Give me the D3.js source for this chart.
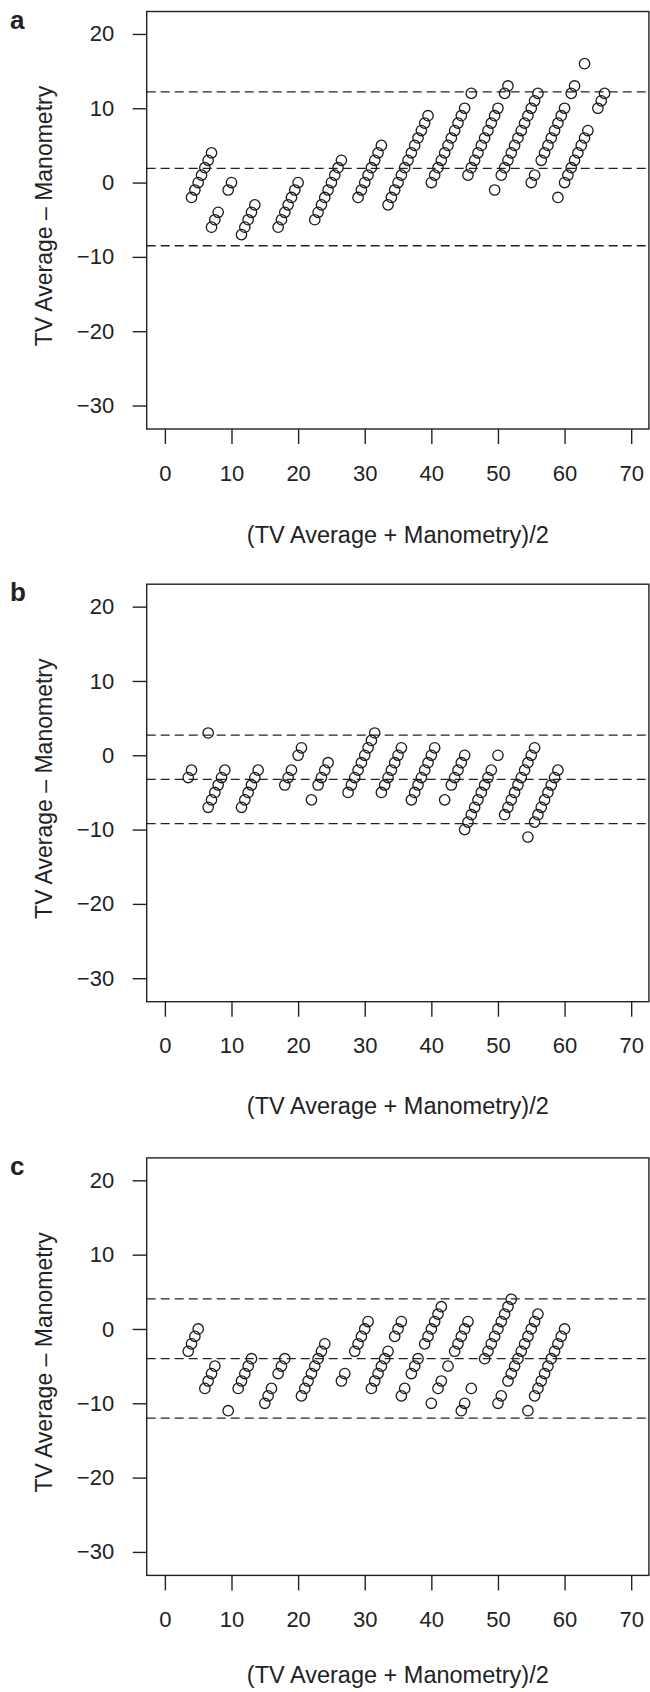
<!DOCTYPE html>
<html>
<head>
<meta charset="utf-8">
<script src="https://cdnjs.cloudflare.com/ajax/libs/d3/7.8.5/d3.min.js"></script>
<style>
body { margin: 0; background: #fff; }
svg text { font-family: "Liberation Sans", Arial, Helvetica, sans-serif; fill: #222; }
</style>
</head>
<body>
<svg width="650" height="1692"></svg>
<script>
var xTicks = [0, 10, 20, 30, 40, 50, 60, 70]
var yTicks = [-30, -20, -10, 0, 10, 20]
var panelNames = ['a', 'b', 'c']

// [mean, difference]
var pointsA = [
    [4,-2],[4.5,-1],[5,0],[5.5,1],[6,2],[6.5,3],[7,4],
    [9.5,-1],[10,0],
    [7,-6],[7.5,-5],[8,-4],
    [11.5,-7],[12,-6],[12.5,-5],[13,-4],[13.5,-3],
    [17,-6],[17.5,-5],[18,-4],[18.5,-3],[19,-2],[19.5,-1],[20,0],
    [22.5,-5],[23,-4],[23.5,-3],[24,-2],[24.5,-1],[25,0],[25.5,1],[26,2],[26.5,3],
    [29,-2],[29.5,-1],[30,0],[30.5,1],[31,2],[31.5,3],[32,4],[32.5,5],
    [33.5,-3],[34,-2],[34.5,-1],[35,0],[35.5,1],[36,2],[36.5,3],[37,4],[37.5,5],[38,6],[38.5,7],[39,8],[39.5,9],
    [40,0],[40.5,1],[41,2],[41.5,3],[42,4],[42.5,5],[43,6],[43.5,7],[44,8],[44.5,9],[45,10],[46,12],
    [45.5,1],[46,2],[46.5,3],[47,4],[47.5,5],[48,6],[48.5,7],[49,8],[49.5,9],[50,10],[51,12],[51.5,13],
    [49.5,-1],
    [50.5,1],[51,2],[51.5,3],[52,4],[52.5,5],[53,6],[53.5,7],[54,8],[54.5,9],[55,10],[55.5,11],[56,12],
    [55,0],[55.5,1],
    [56.5,3],[57,4],[57.5,5],[58,6],[58.5,7],[59,8],[59.5,9],[60,10],[61,12],[61.5,13],
    [59,-2],
    [60,0],[60.5,1],[61,2],[61.5,3],[62,4],[62.5,5],[63,6],[63.5,7],
    [63,16],
    [65,10],[65.5,11],[66,12]
]

var pointsB = [
    [3.5,-3],[4,-2],
    [6.5,3],
    [6.5,-7],[7,-6],[7.5,-5],[8,-4],[8.5,-3],[9,-2],
    [11.5,-7],[12,-6],[12.5,-5],[13,-4],[13.5,-3],[14,-2],
    [18,-4],[18.5,-3],[19,-2],
    [20,0],[20.5,1],
    [22,-6],
    [23,-4],[23.5,-3],[24,-2],[24.5,-1],
    [27.5,-5],[28,-4],[28.5,-3],[29,-2],[29.5,-1],[30,0],[30.5,1],[31,2],[31.5,3],
    [32.5,-5],[33,-4],[33.5,-3],[34,-2],[34.5,-1],[35,0],[35.5,1],
    [37,-6],[37.5,-5],[38,-4],[38.5,-3],[39,-2],[39.5,-1],[40,0],[40.5,1],
    [42,-6],
    [43,-4],[43.5,-3],[44,-2],[44.5,-1],[45,0],
    [45,-10],[45.5,-9],[46,-8],[46.5,-7],[47,-6],[47.5,-5],[48,-4],[48.5,-3],[49,-2],
    [50,0],
    [51,-8],[51.5,-7],[52,-6],[52.5,-5],[53,-4],[53.5,-3],[54,-2],[54.5,-1],[55,0],[55.5,1],
    [54.5,-11],
    [55.5,-9],[56,-8],[56.5,-7],[57,-6],[57.5,-5],[58,-4],[58.5,-3],[59,-2]
]

var pointsC = [
    [3.5,-3],[4,-2],[4.5,-1],[5,0],
    [6,-8],[6.5,-7],[7,-6],[7.5,-5],
    [9.5,-11],
    [11,-8],[11.5,-7],[12,-6],[12.5,-5],[13,-4],
    [15,-10],[15.5,-9],[16,-8],
    [17,-6],[17.5,-5],[18,-4],
    [20.5,-9],[21,-8],[21.5,-7],[22,-6],[22.5,-5],[23,-4],[23.5,-3],[24,-2],
    [26.5,-7],[27,-6],
    [28.5,-3],[29,-2],[29.5,-1],[30,0],[30.5,1],
    [31,-8],[31.5,-7],[32,-6],[32.5,-5],[33,-4],[33.5,-3],
    [34.5,-1],[35,0],[35.5,1],
    [35.5,-9],[36,-8],
    [37,-6],[37.5,-5],[38,-4],
    [39,-2],[39.5,-1],[40,0],[40.5,1],[41,2],[41.5,3],
    [40,-10],
    [41,-8],[41.5,-7],
    [42.5,-5],
    [43.5,-3],[44,-2],[44.5,-1],[45,0],[45.5,1],
    [44.5,-11],[45,-10],
    [46,-8],
    [48,-4],[48.5,-3],[49,-2],[49.5,-1],[50,0],[50.5,1],[51,2],[51.5,3],[52,4],
    [50,-10],[50.5,-9],
    [51.5,-7],[52,-6],[52.5,-5],[53,-4],[53.5,-3],[54,-2],[54.5,-1],[55,0],[55.5,1],[56,2],
    [54.5,-11],
    [55.5,-9],[56,-8],[56.5,-7],[57,-6],[57.5,-5],[58,-4],[58.5,-3],[59,-2],[59.5,-1],[60,0]
]

// upper limit, mean difference, lower limit
var linesA = [12.2, 1.9, -8.5]
var linesB = [2.7, -3.25, -9.2]
var linesC = [4.05, -4.0, -12.0]

var panels = [
    {name: panelNames[0], points: pointsA, lines: linesA},
    {name: panelNames[1], points: pointsB, lines: linesB},
    {name: panelNames[2], points: pointsC, lines: linesC}
]
var offsets = [0, 572.7, 1146.4]
var xTitleY = [543, 541, 537] // the bottom title sits a little higher, clipped page

var box = {left: 146.7, right: 648.9, top: 11.5, bottom: 429}

var mapX = d3.scaleLinear().domain([-2.73, 72.66]).range([box.left, box.right])
var mapY = d3.scaleLinear().domain([-33.16, 23.02]).range([box.bottom, box.top])

var svg = d3.select('svg')

panels.forEach(function(p, i){
    var g = svg.append('g')
        .attr('transform', `translate(0, ${offsets[i]})`)

    // dashed limit lines
    g.selectAll('line.limit')
        .data(p.lines)
        .enter()
        .append('line')
        .attr('class', 'limit')
        .attr('x1', box.left)
        .attr('x2', box.right)
        .attr('y1', function(d){ return mapY(d) })
        .attr('y2', function(d){ return mapY(d) })
        .attr('stroke', '#222')
        .attr('stroke-width', 1.3)
        .attr('stroke-dasharray', '9,5')

    g.selectAll('circle')
        .data(p.points)
        .enter()
        .append('circle')
        .attr('cx', function(d){ return mapX(d[0]) })
        .attr('cy', function(d){ return mapY(d[1]) })
        .attr('r', 5.2)
        .attr('fill', 'none')
        .attr('stroke', '#1a1a1a')
        .attr('stroke-width', 1.3)

    g.append('rect')
        .attr('x', box.left)
        .attr('y', box.top)
        .attr('width', box.right - box.left)
        .attr('height', box.bottom - box.top)
        .attr('fill', 'none')
        .attr('stroke', '#222')
        .attr('stroke-width', 1.4)

    var axisX = d3.axisBottom(mapX).tickValues(xTicks).tickSize(15).tickPadding(21)
    var gx = g.append('g')
        .attr('transform', `translate(0, ${box.bottom})`)
        .call(axisX)

    var axisY = d3.axisLeft(mapY).tickValues(yTicks).tickSize(14).tickPadding(18.5)
    var gy = g.append('g')
        .attr('transform', `translate(${box.left}, 0)`)
        .call(axisY)

    ;[gx, gy].forEach(function(a){
        a.select('.domain').remove()
        a.selectAll('.tick line').attr('stroke', '#222').attr('stroke-width', 1.4)
        a.selectAll('.tick text')
            .style('font-size', '22px')
            .style('font-family', '"Liberation Sans", Arial, sans-serif')
            .attr('fill', '#222')
    })

    g.append('text')
        .text('(TV Average + Manometry)/2')
        .attr('x', (box.left + box.right) / 2)
        .attr('y', xTitleY[i])
        .attr('text-anchor', 'middle')
        .style('font-size', '23.5px')

    g.append('text')
        .text('TV Average \u2013 Manometry')
        .attr('transform', 'translate(51.5, 216) rotate(-90)')
        .attr('text-anchor', 'middle')
        .style('font-size', '23px')

    g.append('text')
        .text(p.name)
        .attr('x', 10)
        .attr('y', 28.5)
        .style('font-size', '26px')
        .style('font-weight', 'bold')
})
</script>
</body>
</html>
